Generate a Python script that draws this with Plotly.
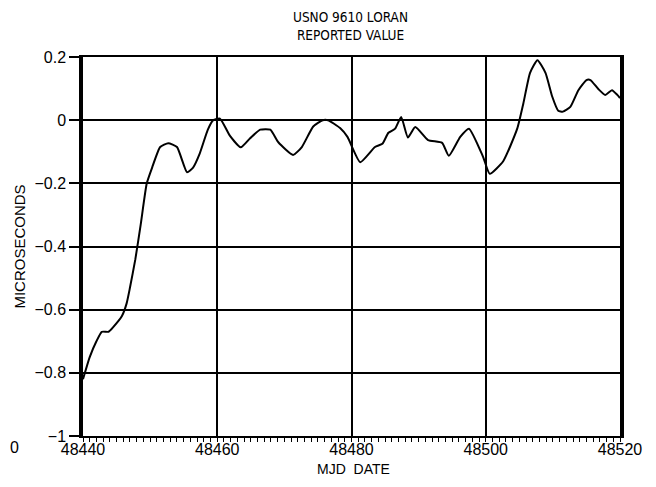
import plotly.graph_objects as go

# MJD dates and reported values (microseconds)
mjd = [48440.0, 48441.0, 48442.0, 48442.8, 48443.8, 48444.5, 48445.8, 48446.5, 48447.0,
       48447.8, 48448.6, 48449.5, 48450.3, 48451.5, 48452.7, 48454.0, 48455.5, 48456.4,
       48457.4, 48458.6, 48459.4, 48460.4, 48461.9, 48463.5, 48464.9, 48466.4, 48467.9,
       48469.1, 48471.3, 48472.6, 48474.3, 48475.7, 48476.5, 48478.3, 48479.4, 48481.3,
       48483.5, 48484.6, 48485.5, 48486.5, 48487.4, 48488.4, 48489.5, 48491.4, 48493.5,
       48494.5, 48496.2, 48497.5, 48499.6, 48500.6, 48502.6, 48504.7, 48505.6, 48506.6,
       48507.7, 48508.9, 48509.9, 48510.8, 48511.5, 48512.6, 48513.8, 48515.0, 48515.6,
       48516.8, 48517.8, 48518.8, 48519.6, 48520.0]
value = [-0.82, -0.75, -0.70, -0.67, -0.67, -0.655, -0.62, -0.58, -0.53,
         -0.44, -0.33, -0.20, -0.15, -0.085, -0.073, -0.085, -0.165, -0.15,
         -0.105, -0.03, 0.0, 0.005, -0.05, -0.086, -0.057, -0.03, -0.03,
         -0.07, -0.11, -0.085, -0.02, 0.0, 0.0, -0.025, -0.053, -0.133,
         -0.085, -0.075, -0.04, -0.027, 0.01, -0.055, -0.022, -0.063, -0.072,
         -0.113, -0.053, -0.027, -0.116, -0.17, -0.13, -0.026, 0.053, 0.15,
         0.19, 0.15, 0.075, 0.03, 0.027, 0.042, 0.095, 0.127, 0.127,
         0.098, 0.08, 0.095, 0.08, 0.07]

x_ticks = [48440, 48460, 48480, 48500, 48520]
x_tick_labels = ["48440", "48460", "48480", "48500", "48520"]
y_ticks = [-1, -0.8, -0.6, -0.4, -0.2, 0, 0.2]
y_tick_labels = ["\u22121", "\u22120.8", "\u22120.6", "\u22120.4", "\u22120.2", "0", "0.2"]

TICK_FONT = "Liberation Sans, Arial, sans-serif"
TITLE_FONT = "DejaVu Sans Condensed, DejaVu Sans, sans-serif"

fig = go.Figure()
fig.add_trace(go.Scatter(x=mjd, y=value, mode="lines",
                         line=dict(color="black", width=2, shape="spline", smoothing=0.5),
                         hoverinfo="skip", showlegend=False))

fig.update_layout(
    width=656, height=487,
    margin=dict(l=75, r=44, t=49, b=59),
    paper_bgcolor="white", plot_bgcolor="white",
    font=dict(family=TICK_FONT, color="black", size=12),
    xaxis=dict(range=[48440, 48520], tickvals=x_ticks, ticktext=x_tick_labels,
               showgrid=True, gridcolor="black", gridwidth=1.5,
               showline=True, linecolor="black", linewidth=2, mirror=True,
               ticks="outside", ticklen=4, tickcolor="black", tickwidth=1,
               ticklabelstandoff=-6,
               minor=dict(dtick=1, ticks="outside", ticklen=4, tickcolor="black", showgrid=False),
               tickfont=dict(family=TICK_FONT, size=16), zeroline=False),
    yaxis=dict(range=[-1, 0.2], tickvals=y_ticks, ticktext=y_tick_labels,
               showgrid=True, gridcolor="black", gridwidth=2,
               showline=True, linecolor="black", linewidth=3.5, mirror=True,
               ticks="outside", ticklen=10, tickcolor="black", tickwidth=1.5,
               tickfont=dict(family=TICK_FONT, size=16), zeroline=False),
)

fig.add_annotation(text="USNO 9610 LORAN<br>REPORTED VALUE", xref="paper", yref="paper",
                   x=0.499, y=1.082, showarrow=False, xanchor="center", yanchor="middle",
                   align="center", font=dict(family=TITLE_FONT, size=13.5))
fig.add_annotation(text="MICROSECONDS", xref="paper", yref="paper", x=-0.119, y=0.50,
                   textangle=-90, showarrow=False, xanchor="center", yanchor="middle",
                   font=dict(family=TICK_FONT, size=15))
fig.add_annotation(text="MJD&nbsp;&nbsp;DATE", xref="paper", yref="paper", x=0.503, y=-0.088,
                   showarrow=False, xanchor="center", yanchor="middle",
                   font=dict(family=TICK_FONT, size=14))
fig.add_annotation(text="0", xref="paper", yref="paper", x=-0.14, y=-0.03,
                   showarrow=False, xanchor="left", yanchor="middle",
                   font=dict(family=TICK_FONT, size=16))

fig.write_html("out.html")
